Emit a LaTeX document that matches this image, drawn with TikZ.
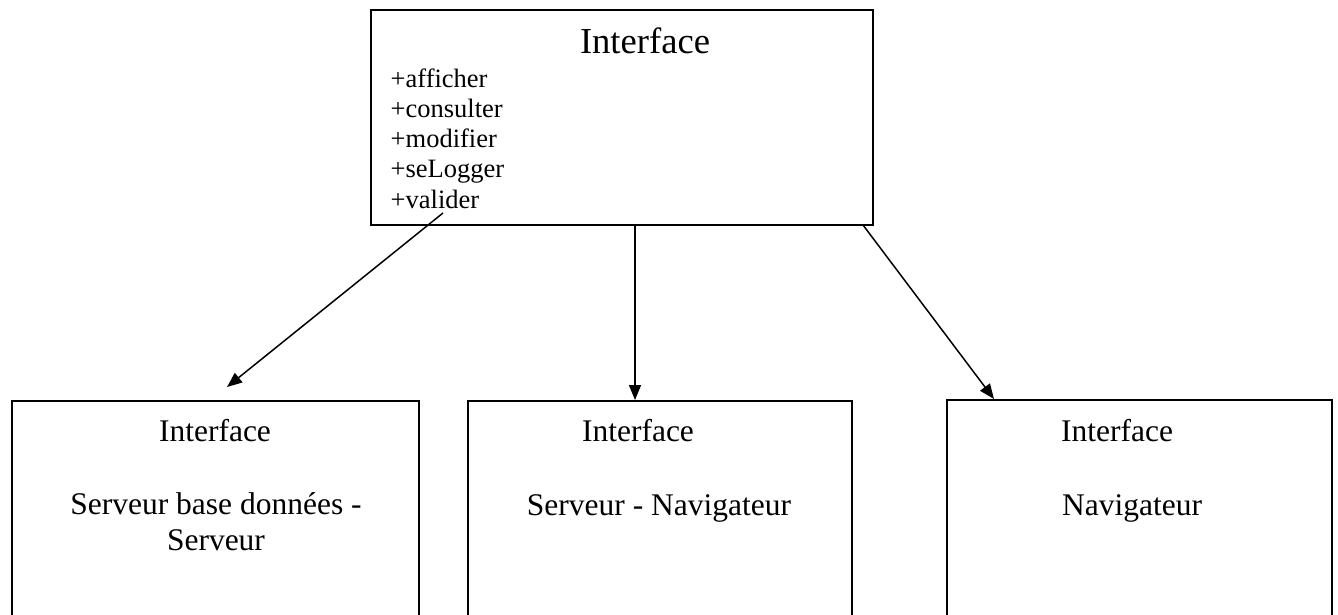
\documentclass[tikz,border=0pt]{standalone}
\usepackage{fontspec}
\setmainfont{Liberation Serif}
\usetikzlibrary{arrows.meta}
\tikzset{
  box/.style={draw, line width=1.7pt, rectangle, inner sep=0pt, anchor=north west},
  title/.style={anchor=base, inner sep=0pt, font=\fontsize{36.6}{40}\selectfont},
  member/.style={anchor=base west, inner sep=0pt, font=\fontsize{26.5}{30}\selectfont},
  label/.style={anchor=base, inner sep=0pt, font=\fontsize{31.5}{36}\selectfont},
  link/.style={line width=1.5pt, -{Triangle[length=15pt,width=12pt]}}
}
\begin{document}
\begin{tikzpicture}[x=1pt,y=-1pt]
\clip (0,0) rectangle (1338,614);
\fill[white] (0,0) rectangle (1338,614);

% class box on top
\node[box, minimum width=502pt, minimum height=215pt] (top) at (370,9) {};
\node[title] (ttop) at (645,53) {Interface};
\node[member] (m1) at (390.5,87) {+afficher};
\node[member] (m2) at (390.5,117) {+consulter};
\node[member] (m3) at (390.5,147) {+modifier};
\node[member] (m4) at (390.5,177.5) {+seLogger};
\node[member] (m5) at (390.5,208) {+valider};

% the three interfaces below, open at the bottom edge
\node[box, minimum width=407pt, minimum height=240pt] (left) at (11,400) {};
\node[box, minimum width=384pt, minimum height=240pt] (mid) at (467,400) {};
\node[box, minimum width=385pt, minimum height=240pt] (right) at (946,399) {};

\node[label] (l1) at (215,441) {Interface};
\node[label] (l2) at (216,514) {Serveur base données -};
\node[label] (l3) at (216,550) {Serveur};

\node[label] (c1) at (638,441) {Interface};
\node[label] (c2) at (659,515) {Serveur - Navigateur};

\node[label] (r1) at (1117,441) {Interface};
\node[label] (r2) at (1132,515) {Navigateur};

% connectors
\coordinate (sL) at (443,213);
\coordinate (eL) at (227,387);
\coordinate (sM) at (635,224);
\coordinate (eM) at (635,400);
\coordinate (sR) at (863,225);
\coordinate (eR) at (994,399);
\draw[link] (sL) -- (eL);
\draw[link] (sM) -- (eM);
\draw[link] (sR) -- (eR);
\end{tikzpicture}
\end{document}
